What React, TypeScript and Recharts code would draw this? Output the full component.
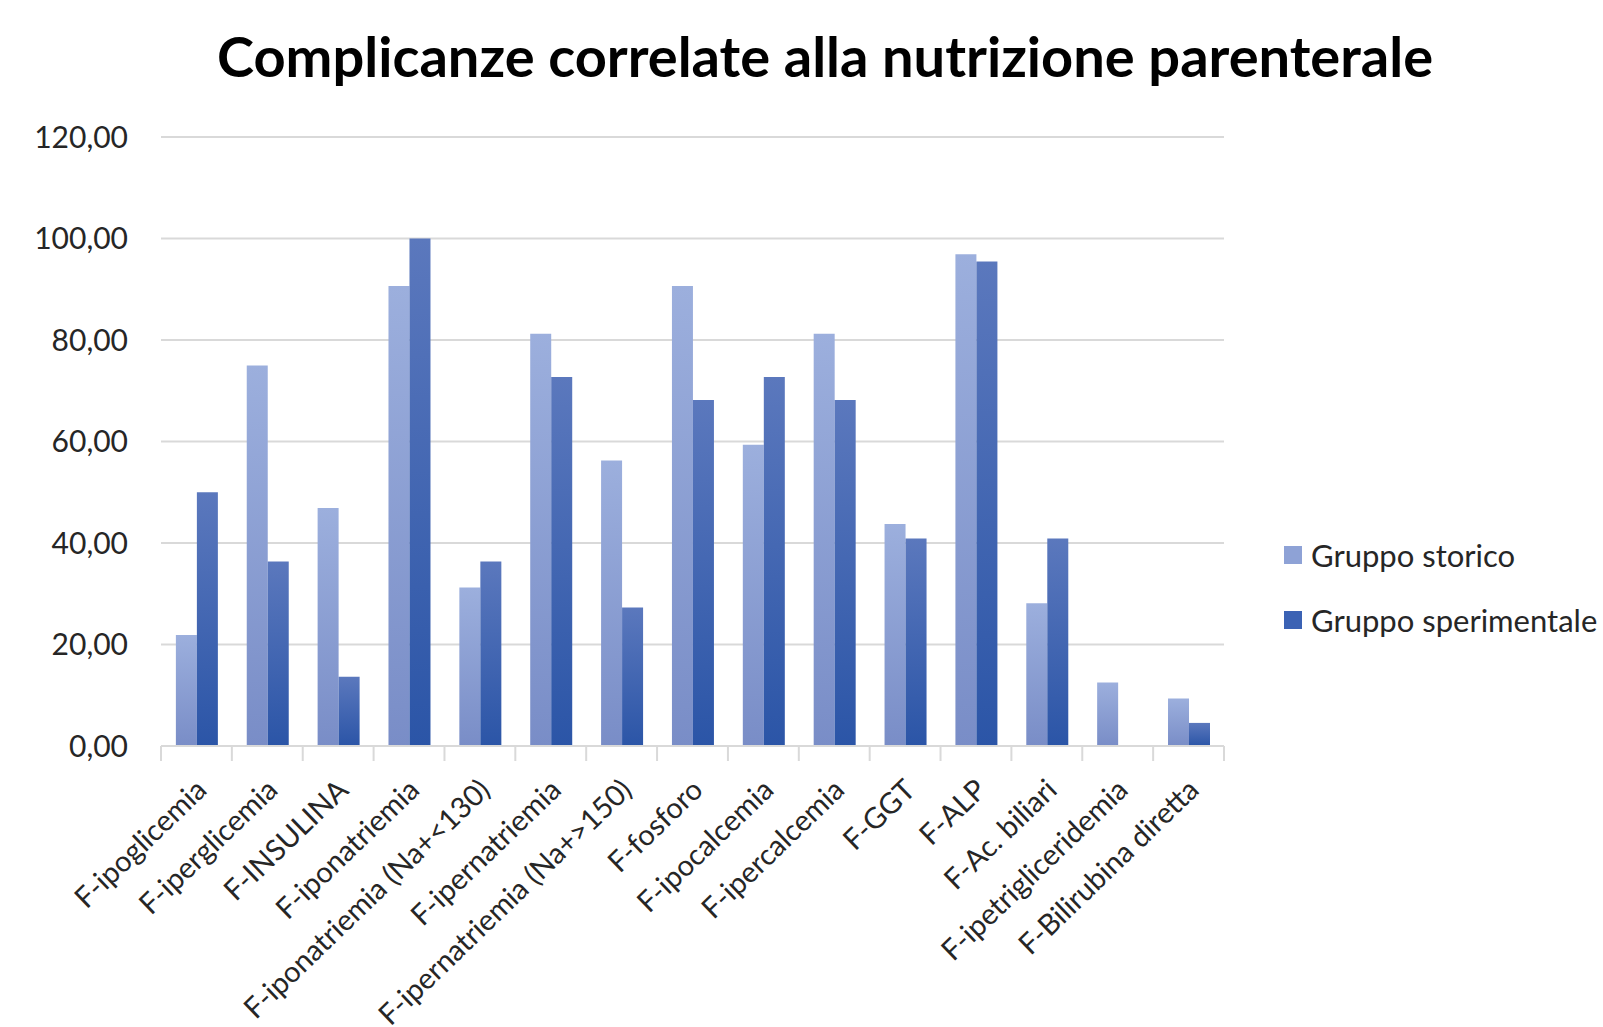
import { BarChart, Bar, XAxis, YAxis, CartesianGrid } from "recharts";

const categories = [
  "F-ipoglicemia",
  "F-iperglicemia",
  "F-INSULINA",
  "F-iponatriemia",
  "F-iponatriemia (Na+<130)",
  "F-ipernatriemia",
  "F-ipernatriemia (Na+>150)",
  "F-fosforo",
  "F-ipocalcemia",
  "F-ipercalcemia",
  "F-GGT",
  "F-ALP",
  "F-Ac. biliari",
  "F-ipetrigliceridemia",
  "F-Bilirubina diretta",
];

const storico = [21.88, 75.0, 46.88, 90.63, 31.25, 81.25, 56.25, 90.63, 59.38, 81.25, 43.75, 96.88, 28.13, 12.5, 9.38];
const sperimentale = [50.0, 36.36, 13.64, 100.0, 36.36, 72.73, 27.27, 68.18, 72.73, 68.18, 40.91, 95.45, 40.91, 0, 4.55];

const yTicks = [0, 20, 40, 60, 80, 100, 120];

const seriesNames = ["Gruppo storico", "Gruppo sperimentale"];
const legendColors = ["#8ea2d6", "#3b62b4"];

const data = categories.map((name, i) => ({
  name,
  storico: storico[i],
  sperimentale: sperimentale[i],
}));

const FONT = "Lato, 'Open Sans', sans-serif";
const W = 1603;
const H = 1027;
const X_AXIS_H = 281;
const M = { top: 137, right: 379, bottom: 0, left: 0 };
const Y_AXIS_W = 161;
const BAND = (W - M.right - Y_AXIS_W) / categories.length;

const fmt = (v: number) => v.toFixed(2).replace(".", ",");

const XTick = (props: any) => {
  const { x, y, payload, index } = props;
  const half = BAND / 2;
  const ax = x + 12;
  const ay = y + 46;
  return (
    <g>
      <line x1={x - half} x2={x - half} y1={y} y2={y + 15} stroke="#d9d9d9" strokeWidth={2} />
      {index === categories.length - 1 && (
        <line x1={x + half} x2={x + half} y1={y} y2={y + 15} stroke="#d9d9d9" strokeWidth={2} />
      )}
      <text
        x={ax}
        y={ay}
        textAnchor="end"
        fontFamily={FONT}
        fontSize={29}
        fill="#262626"
        transform={`rotate(-44, ${ax}, ${ay})`}
      >
        {payload.value}
      </text>
    </g>
  );
};

export default function App() {
  return (
    <div style={{ position: "fixed", left: 0, top: 0, width: W, height: H, background: "#fff" }}>
      <svg width={W} height={110} style={{ position: "absolute", left: 0, top: 0 }}>
        <text
          x={825}
          y={77}
          textAnchor="middle"
          fontFamily={FONT}
          fontWeight={700}
          fontSize={56}
          fill="#000"
        >
          Complicanze correlate alla nutrizione parenterale
        </text>
      </svg>
      <div style={{ position: "absolute", left: 0, top: 0 }}>
        <BarChart
          width={W}
          height={H}
          data={data}
          margin={M}
          barCategoryGap="21%"
          barGap={0}
        >
          <defs>
            <linearGradient id="gStorico" x1="0" y1="0" x2="0" y2="1">
              <stop offset="0%" stopColor="#9cafdd" />
              <stop offset="100%" stopColor="#798dc7" />
            </linearGradient>
            <linearGradient id="gSper" x1="0" y1="0" x2="0" y2="1">
              <stop offset="0%" stopColor="#5b78bd" />
              <stop offset="100%" stopColor="#2b55a7" />
            </linearGradient>
          </defs>
          <CartesianGrid vertical={false} stroke="#d9d9d9" strokeWidth={2} />
          <XAxis
            dataKey="name"
            interval={0}
            tickSize={0}
            tickMargin={0}
            axisLine={{ stroke: "#d9d9d9", strokeWidth: 2 }}
            tick={<XTick />}
            height={X_AXIS_H}
          />
          <YAxis
            width={Y_AXIS_W}
            domain={[0, 120]}
            ticks={yTicks}
            tickFormatter={fmt}
            axisLine={false}
            tickLine={false}
            tickSize={0}
            tickMargin={33}
            tick={{ fontFamily: FONT, fontSize: 30, fill: "#262626" }}
          />
          <Bar dataKey="storico" name={seriesNames[0]} fill="url(#gStorico)" isAnimationActive={false} />
          <Bar dataKey="sperimentale" name={seriesNames[1]} fill="url(#gSper)" isAnimationActive={false} />
        </BarChart>
      </div>
      <div
        style={{
          position: "absolute",
          left: 1284,
          top: 522,
          fontFamily: FONT,
          fontSize: 31,
          color: "#262626",
        }}
      >
        {seriesNames.map((name, i) => (
          <div key={name} style={{ display: "flex", alignItems: "center", height: 65, whiteSpace: "nowrap" }}>
            <span
              style={{
                display: "inline-block",
                width: 18,
                height: 18,
                background: legendColors[i],
                marginRight: 9,
              }}
            />
            <span>{name}</span>
          </div>
        ))}
      </div>
    </div>
  );
}
